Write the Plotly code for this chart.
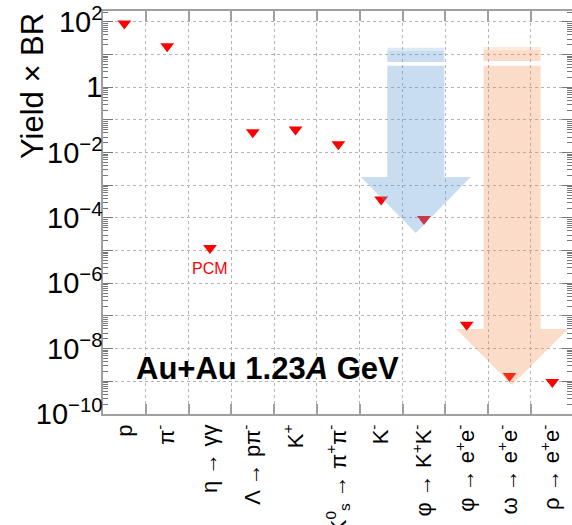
import plotly.graph_objects as go

# Decay channels on the x axis
channels = [
    "p",
    "π<sup>-</sup>",
    "η → γγ",
    "Λ → pπ<sup>-</sup>",
    "K<sup>+</sup>",
    "K<sup>0</sup><sub>s</sub> → π<sup>+</sup>π<sup>-</sup>",
    "K<sup>-</sup>",
    "φ → K<sup>+</sup>K<sup>-</sup>",
    "φ → e<sup>+</sup>e<sup>-</sup>",
    "ω → e<sup>+</sup>e<sup>-</sup>",
    "ρ → e<sup>+</sup>e<sup>-</sup>",
]

# Yield times branching ratio per channel
yield_br = [90, 18, 1.2e-5, 0.042, 0.051, 0.018, 3.7e-4, 9.3e-5, 5.4e-8, 1.45e-9, 9.6e-10]

# Decades carrying tick marks / labels on the y axis
decades = list(range(-10, 3))

# Downward arrows (x in channel index units, y in yield units)
blue_arrow = dict(center=6.81, shaft_half=0.666, head_half=1.285,
                  top=4.6, head_base=1.8e-3, tip=3.5e-5,
                  band=(6.0, 12.9, 16.3),
                  color="rgba(98,161,212,0.35)", light="rgba(98,161,212,0.22)")
orange_arrow = dict(center=9.06, shaft_half=0.666, head_half=1.305,
                    top=4.6, head_base=4.0e-8, tip=7.7e-10,
                    band=(6.4, 13.6, 17.1),
                    color="rgba(238,138,72,0.30)", light="rgba(238,138,72,0.18)")

FONT = "Liberation Sans, Arial, Helvetica, sans-serif"
GRID = "#b4b4b4"
FRAME = "#a0a0a0"

fig = go.Figure()

# Measured points
fig.add_trace(go.Scatter(
    x=list(range(len(channels))), y=yield_br, mode="markers",
    marker=dict(symbol="triangle-down", size=12, color="#ff0000", line=dict(width=0)),
    hoverinfo="skip",
))


def add_arrow(a):
    c, s, h = a["center"], a["shaft_half"], a["head_half"]
    xs = [c - s, c - s, c - h, c, c + h, c + s, c + s, c - s]
    ys = [a["top"], a["head_base"], a["head_base"], a["tip"], a["head_base"],
          a["head_base"], a["top"], a["top"]]
    fig.add_trace(go.Scatter(x=xs, y=ys, mode="lines", fill="toself",
                             fillcolor=a["color"], line=dict(width=0), hoverinfo="skip"))
    lo, mid, hi = a["band"]
    for y0, y1, col in [(lo, mid, a["color"]), (mid, hi, a["light"])]:
        fig.add_trace(go.Scatter(x=[c - s, c + s, c + s, c - s, c - s],
                                 y=[y0, y0, y1, y1, y0], mode="lines", fill="toself",
                                 fillcolor=col, line=dict(width=0), hoverinfo="skip"))


add_arrow(blue_arrow)
add_arrow(orange_arrow)

ytext = []
for n in decades:
    if n % 2:
        ytext.append("")
    elif n == 0:
        ytext.append("1")
    else:
        ytext.append("10<sup>%s</sup>" % str(n).replace("-", "−"))

minor_y = [k * 10.0 ** n for n in decades[:-1] for k in range(2, 10)]
minor_y += [k * 100.0 for k in (2,)]

fig.update_layout(
    width=572, height=525,
    margin=dict(l=103, r=0, t=11, b=111, autoexpand=False),
    plot_bgcolor="white", paper_bgcolor="white",
    showlegend=False,
    font=dict(family=FONT, color="black"),
    xaxis=dict(
        range=[-0.5, 10.46], tickmode="array",
        tickvals=list(range(len(channels))), ticktext=channels,
        tickangle=-90, tickfont=dict(size=22, family=FONT, color="black"),
        ticks="", showgrid=False, zeroline=False,
        showline=True, linecolor=FRAME, linewidth=1.5, mirror="ticks",
        automargin=False,
        minor=dict(tickmode="array", tickvals=[i + 0.5 for i in range(len(channels) - 1)],
                   ticks="inside", ticklen=10, tickwidth=1.5, tickcolor=FRAME,
                   showgrid=True, gridcolor=GRID, griddash="dot", gridwidth=1),
    ),
    yaxis=dict(
        type="log", range=[-10, 2.336], tickmode="array",
        tickvals=[10.0 ** n for n in decades], ticktext=ytext,
        tickfont=dict(size=29, family=FONT, color="black"),
        ticklabelstandoff=-7,
        ticks="inside", ticklen=10, tickwidth=1, tickcolor="#777777",
        showgrid=True, gridcolor=GRID, griddash="dot", gridwidth=1,
        zeroline=False, showline=True, linecolor=FRAME, linewidth=1.5, mirror="ticks",
        automargin=False,
        minor=dict(tickmode="array", tickvals=minor_y, ticks="inside", ticklen=5,
                   tickwidth=1, tickcolor="#777777", showgrid=False),
    ),
)

# Axis title
fig.add_annotation(text="Yield × BR", textangle=-90, xref="paper", yref="paper",
                   x=(33 - 103) / 469, y=(414 - 86) / 403, showarrow=False,
                   xanchor="center", yanchor="middle",
                   font=dict(size=31, family=FONT, color="black"))

# PCM label under the eta point
fig.add_annotation(text="PCM", x=2, y=-4.92, xref="x", yref="y", yshift=-20,
                   xanchor="center", yanchor="middle", showarrow=False,
                   font=dict(size=16, family=FONT, color="#ff0000"))

# Collision system
fig.add_annotation(text="<b>Au+Au 1.23<i>A</i> GeV</b>", xref="paper", yref="paper",
                   x=(267 - 103) / 469, y=(414 - 368) / 403, showarrow=False,
                   xanchor="center", yanchor="middle",
                   font=dict(size=31, family=FONT, color="black"))

fig.write_html("out.html")
